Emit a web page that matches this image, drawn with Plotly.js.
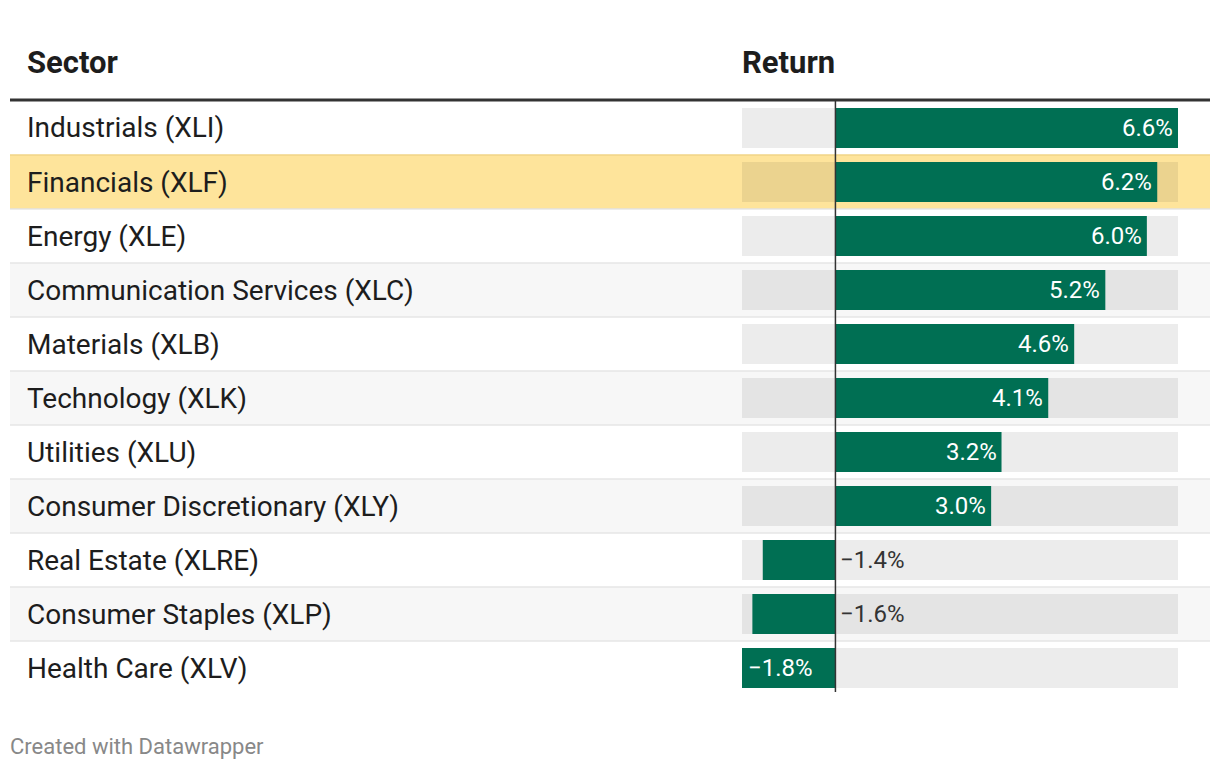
<!DOCTYPE html>
<html>
<head>
<meta charset="utf-8">
<script src="https://cdn.plot.ly/plotly-3.0.1.min.js"></script>
<style>html,body{margin:0;padding:0;background:#fff;}#chart{width:1220px;height:770px;}</style>
</head>
<body>
<div id="chart"></div>
<script>
const sectors = [
  "Industrials (XLI)",
  "Financials (XLF)",
  "Energy (XLE)",
  "Communication Services (XLC)",
  "Materials (XLB)",
  "Technology (XLK)",
  "Utilities (XLU)",
  "Consumer Discretionary (XLY)",
  "Real Estate (XLRE)",
  "Consumer Staples (XLP)",
  "Health Care (XLV)"
];
const returns = [6.6, 6.2, 6.0, 5.2, 4.6, 4.1, 3.2, 3.0, -1.4, -1.6, -1.8];
const highlighted = ["Financials (XLF)"];
const headerLabels = ["Sector", "Return"];
const footerText = "Created with Datawrapper";

const W = 1220, H = 770;
const px = v => v / W;
const py = v => 1 - v / H;
const FONT = "Roboto, 'Noto Sans', sans-serif";
const GREEN = "#006f53";

const vmin = Math.min(...returns);
const vmax = Math.max(...returns);
const fmt = v => (v < 0 ? "\u2212" : "") + Math.abs(v).toFixed(1) + "%";

const shapes = [];
const annotations = [];

sectors.forEach((s, i) => {
  const isHi = highlighted.includes(s);
  let fill = (i % 2 === 1) ? "#f7f7f7" : "#ffffff";
  if (isHi) fill = "#fee49b";
  shapes.push({type: "rect", layer: "below", xref: "paper", yref: "y",
    x0: px(10), x1: px(1210), y0: i - 0.5, y1: i + 0.5,
    fillcolor: fill, line: {width: 0}});
  if (i > 0) {
    shapes.push({type: "line", layer: "below", xref: "paper", yref: "y",
      x0: px(10), x1: px(1210), y0: i - 0.5, y1: i - 0.5,
      line: {color: isHi ? "#f1d487" : "#e6e6e6", width: 1.5}});
  }
  if (isHi) {
    shapes.push({type: "line", layer: "below", xref: "paper", yref: "y",
      x0: px(10), x1: px(1210), y0: i + 0.5, y1: i + 0.5,
      line: {color: "#f1d487", width: 1.5}});
  }
  // background range bar
  shapes.push({type: "rect", layer: "below", xref: "x", yref: "y",
    x0: vmin, x1: vmax, y0: i - 0.37, y1: i + 0.37,
    fillcolor: "rgba(0,0,0,0.075)", line: {width: 0}});
  // row label
  annotations.push({xref: "paper", yref: "y", x: px(27), y: i, text: s,
    xanchor: "left", yanchor: "middle", xshift: -2, showarrow: false,
    font: {family: FONT, size: 28, color: "#1d1d1d"}});
  // value label
  const v = returns[i];
  if (v >= 0) {
    annotations.push({xref: "x", yref: "y", x: v, y: i, text: fmt(v),
      xanchor: "right", yanchor: "middle", xshift: -3, showarrow: false,
      font: {family: FONT, size: 24, color: "#ffffff"}});
  } else if (v === vmin) {
    annotations.push({xref: "x", yref: "y", x: v, y: i, text: fmt(v),
      xanchor: "left", yanchor: "middle", xshift: 4, showarrow: false,
      font: {family: FONT, size: 24, color: "#ffffff"}});
  } else {
    annotations.push({xref: "x", yref: "y", x: 0, y: i, text: fmt(v),
      xanchor: "left", yanchor: "middle", xshift: 3, showarrow: false,
      font: {family: FONT, size: 24, color: "#333333"}});
  }
});

// header line
shapes.push({type: "line", xref: "paper", yref: "paper",
  x0: px(10), x1: px(1210), y0: py(100), y1: py(100),
  line: {color: "#333333", width: 3}});
// zero line
shapes.push({type: "line", layer: "above", xref: "x", yref: "paper",
  x0: 0, x1: 0, y0: py(101), y1: py(692),
  line: {color: "#333333", width: 1.5}});

annotations.push({xref: "paper", yref: "paper", x: px(27), y: py(63), text: "<b>" + headerLabels[0] + "</b>",
  xanchor: "left", yanchor: "middle", xshift: -2, showarrow: false, font: {family: FONT, size: 31, color: "#1d1d1d"}});
annotations.push({xref: "paper", yref: "paper", x: px(742), y: py(63), text: "<b>" + headerLabels[1] + "</b>",
  xanchor: "left", yanchor: "middle", xshift: -2, showarrow: false, font: {family: FONT, size: 31, color: "#1d1d1d"}});
annotations.push({xref: "paper", yref: "paper", x: px(10), y: py(746), text: footerText,
  xanchor: "left", yanchor: "middle", xshift: -2, showarrow: false, font: {family: FONT, size: 22, color: "#888888"}});

const trace = {
  type: "bar", orientation: "h", y: sectors, x: returns,
  width: 0.74, marker: {color: GREEN, line: {width: 0}},
  hoverinfo: "skip", showlegend: false
};

const layout = {
  width: W, height: H,
  margin: {l: 0, r: 0, t: 0, b: 0},
  paper_bgcolor: "#ffffff", plot_bgcolor: "rgba(0,0,0,0)",
  xaxis: {domain: [px(742), px(1178)], range: [vmin, vmax], visible: false, fixedrange: true},
  yaxis: {domain: [py(695), py(101)], type: "category", categoryorder: "array", categoryarray: sectors,
    range: [sectors.length - 0.5, -0.5], visible: false, fixedrange: true},
  shapes: shapes, annotations: annotations, showlegend: false
};

Plotly.newPlot("chart", [trace], layout, {displayModeBar: false, staticPlot: true});
</script>
</body>
</html>
